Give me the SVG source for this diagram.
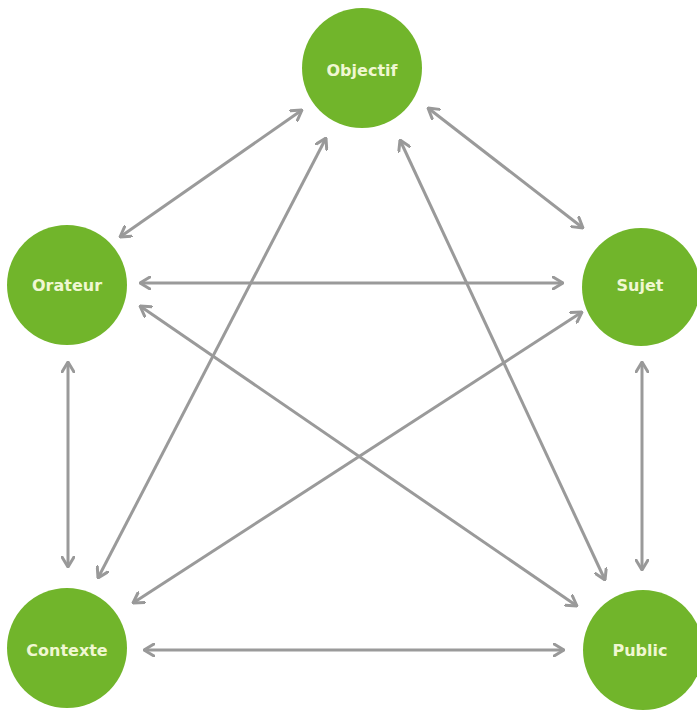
<svg xmlns="http://www.w3.org/2000/svg" width="697" height="710" viewBox="0 0 697 710">
  <defs>
    <marker id="chevron" viewBox="0 0 12 14" refX="11" refY="7" markerWidth="12" markerHeight="14" markerUnits="userSpaceOnUse" orient="auto-start-reverse">
      <path d="M1,1 L11,7 L1,13" fill="none" stroke="#999999" stroke-width="3" stroke-linecap="round" stroke-linejoin="round"/>
    </marker>
  </defs>
  <style>
    .node circle { fill: #71b52b; }
    .node text { fill: #f0f7d2; font-family: "DejaVu Sans", "Liberation Sans", sans-serif; font-weight: bold; font-size: 16px; text-anchor: middle; dominant-baseline: central; }
    .link { stroke: #9a9a9a; stroke-width: 3; fill: none; marker-start: url(#chevron); marker-end: url(#chevron); }
  </style>
  <rect width="697" height="710" fill="#ffffff"/>

  <g id="connectors">
    <line class="link" x1="302" y1="110" x2="120" y2="237"/>
    <line class="link" x1="428" y1="108" x2="583" y2="228"/>
    <line class="link" x1="140" y1="283" x2="563" y2="283"/>
    <line class="link" x1="140" y1="306" x2="577" y2="606"/>
    <line class="link" x1="326" y1="138" x2="98" y2="578"/>
    <line class="link" x1="400" y1="140" x2="605" y2="580"/>
    <line class="link" x1="582" y1="312" x2="133" y2="603"/>
    <line class="link" x1="68" y1="362" x2="68" y2="567"/>
    <line class="link" x1="642" y1="362" x2="642" y2="570"/>
    <line class="link" x1="144" y1="650" x2="564" y2="650"/>
  </g>

  <g id="objectif" class="node">
    <circle cx="362" cy="68" r="60"/>
    <text x="362" y="70">Objectif</text>
  </g>
  <g id="orateur" class="node">
    <circle cx="67" cy="285" r="60"/>
    <text x="67" y="285">Orateur</text>
  </g>
  <g id="sujet" class="node">
    <circle cx="641" cy="287" r="59"/>
    <text x="640" y="285">Sujet</text>
  </g>
  <g id="contexte" class="node">
    <circle cx="67" cy="648" r="60"/>
    <text x="67" y="650">Contexte</text>
  </g>
  <g id="public" class="node">
    <circle cx="643" cy="650" r="60"/>
    <text x="640" y="650">Public</text>
  </g>
</svg>
